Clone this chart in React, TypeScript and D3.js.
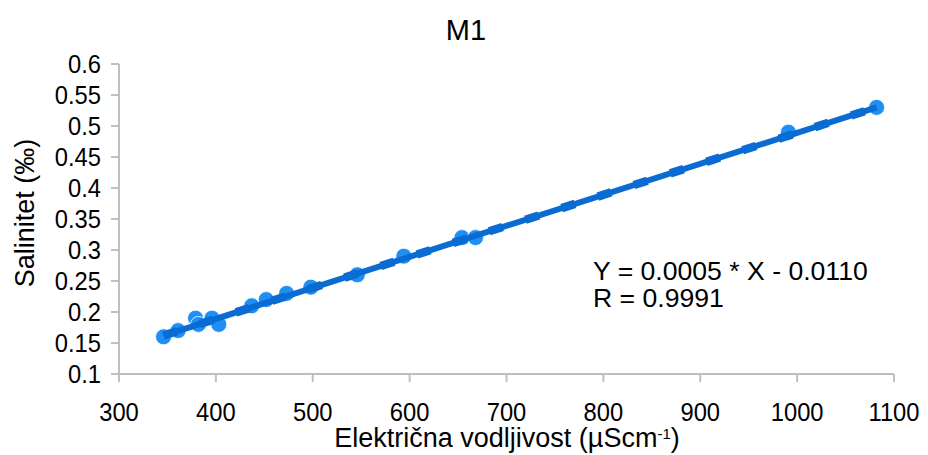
import React from "react";
import * as d3 from "d3";

const conductivity = [346, 361, 379, 382, 396, 403, 437, 452, 473, 498, 546, 594, 654, 668, 991, 1082];
const salinity = [0.16, 0.17, 0.19, 0.18, 0.19, 0.18, 0.21, 0.22, 0.23, 0.24, 0.26, 0.29, 0.32, 0.32, 0.49, 0.53];
const xTicks = [300, 400, 500, 600, 700, 800, 900, 1000, 1100];
const yTicks = [0.1, 0.15, 0.2, 0.25, 0.3, 0.35, 0.4, 0.45, 0.5, 0.55, 0.6];
const slope = 0.0005;
const intercept = -0.011;
const title = "M1";
const eqText = "Y = 0.0005 * X - 0.0110";
const rText = "R = 0.9991";

const W = 928;
const H = 455;
const FONT = "'Liberation Sans', Arial, sans-serif";

function T(props: {
  x: number;
  y: number;
  size: number;
  sx?: number;
  anchor?: "start" | "middle" | "end";
  rotate?: number;
  dy?: string;
  children: React.ReactNode;
}) {
  const { x, y, size, sx = 1, anchor = "start", rotate = 0, dy, children } = props;
  return (
    <text
      transform={`translate(${x},${y}) rotate(${rotate}) scale(${sx},1)`}
      textAnchor={anchor}
      fontFamily={FONT}
      fontSize={size}
      dy={dy}
      fill="#000"
    >
      {children}
    </text>
  );
}

export default function App() {
  const x = d3.scaleLinear().domain([300, 1100]).range([119, 894]);
  const y = d3.scaleLinear().domain([0.1, 0.6]).range([374, 64]);
  const xMin = d3.min(conductivity) as number;
  const xMax = d3.max(conductivity) as number;
  const line = d3
    .line<number>()
    .x((d) => x(d))
    .y((d) => y(slope * d + intercept));
  const linePath = line([xMin, xMax]) || "";
  const axisColor = "#bfbfbf";
  const fmt = (v: number) => String(+v.toFixed(2));

  return (
    <div style={{ position: "absolute", left: 0, top: 0 }}>
      <svg width={W} height={H} style={{ display: "block", background: "#fff" }}>
        <T x={466} y={40} size={29} anchor="middle">
          {title}
        </T>
        {/* axes */}
        <line x1={x(300)} x2={x(300)} y1={y(0.6)} y2={y(0.1)} stroke={axisColor} strokeWidth={2} />
        <line x1={x(300)} x2={x(1100)} y1={y(0.1)} y2={y(0.1)} stroke={axisColor} strokeWidth={2} />
        {yTicks.map((t) => (
          <g key={"y" + t}>
            <line x1={x(300) - 8} x2={x(300)} y1={y(t)} y2={y(t)} stroke={axisColor} strokeWidth={2} />
            <T x={101} y={y(t)} dy="0.36em" size={25} sx={0.95} anchor="end">
              {fmt(t)}
            </T>
          </g>
        ))}
        {xTicks.map((t) => (
          <g key={"x" + t}>
            <line x1={x(t)} x2={x(t)} y1={y(0.1)} y2={y(0.1) + 8} stroke={axisColor} strokeWidth={2} />
            <T x={x(t)} y={421} size={25} sx={0.95} anchor="middle">
              {t}
            </T>
          </g>
        ))}
        <T x={34} y={213} size={27} rotate={-90} anchor="middle">
          Salinitet (‰)
        </T>
        <T x={507} y={447} size={27} anchor="middle">
          Električna vodljivost (µScm
          <tspan baselineShift="super" fontSize={15}>-1</tspan>
          <tspan>)</tspan>
        </T>
        {/* points */}
        {conductivity.map((c, i) => (
          <circle key={"p" + i} cx={x(c)} cy={y(salinity[i])} r={8} fill="#1e8ff5" stroke="#fff" strokeWidth={0.8} />
        ))}
        {/* regression line */}
        <path d={linePath} stroke="#0a6cd2" strokeWidth={6} fill="none" />
        <path d={linePath} stroke="#0a6cd2" strokeWidth={8.5} strokeDasharray="14 24" fill="none" />
        <T x={593} y={280} size={26.6}>
          {eqText}
        </T>
        <T x={593} y={307} size={26.6}>
          {rText}
        </T>
      </svg>
    </div>
  );
}
